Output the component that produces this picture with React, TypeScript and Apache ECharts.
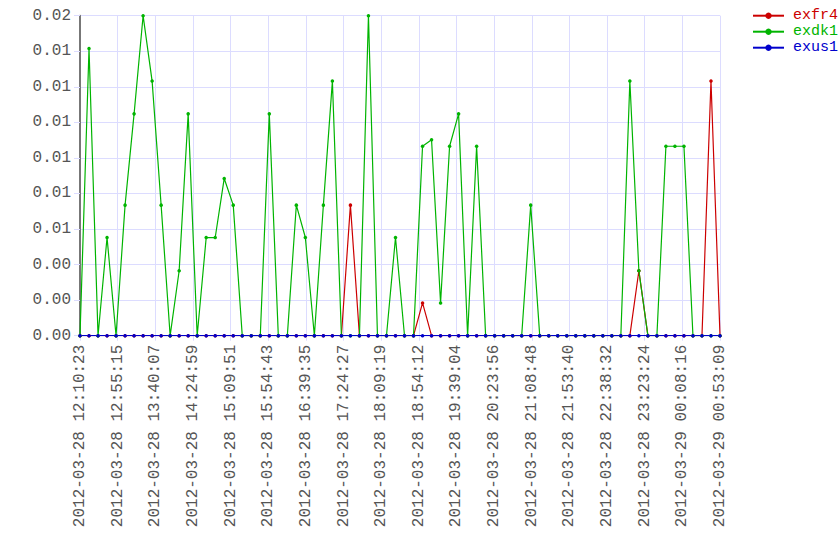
import React, { useEffect, useRef } from "react";
import * as echarts from "echarts";

const tickLabels = [
  "2012-03-28 12:10:23",
  "2012-03-28 12:55:15",
  "2012-03-28 13:40:07",
  "2012-03-28 14:24:59",
  "2012-03-28 15:09:51",
  "2012-03-28 15:54:43",
  "2012-03-28 16:39:35",
  "2012-03-28 17:24:27",
  "2012-03-28 18:09:19",
  "2012-03-28 18:54:12",
  "2012-03-28 19:39:04",
  "2012-03-28 20:23:56",
  "2012-03-28 21:08:48",
  "2012-03-28 21:53:40",
  "2012-03-28 22:38:32",
  "2012-03-28 23:23:24",
  "2012-03-29 00:08:16",
  "2012-03-29 00:53:09",
];

const exfr4 = [
  0, 0, 0, 0, 0, 0, 0, 0, 0, 0,
  0, 0, 0, 0, 0, 0, 0, 0, 0, 0,
  0, 0, 0, 0, 0, 0, 0, 0, 0, 0,
  0.00661, 0, 0, 0, 0, 0, 0, 0, 0.00166, 0,
  0, 0, 0, 0, 0, 0, 0, 0, 0, 0,
  0, 0, 0, 0, 0, 0, 0, 0, 0, 0,
  0, 0, 0.00329, 0, 0, 0, 0, 0, 0, 0,
  0.01289, 0,
];

const exdk1 = [
  0, 0.01454, 0, 0.00497, 0, 0.00661, 0.01123, 0.0162, 0.01289, 0.00661,
  0, 0.00329, 0.01123, 0, 0.00497, 0.00497, 0.00796, 0.00661, 0, 0,
  0, 0.01123, 0, 0, 0.00661, 0.00497, 0, 0.00661, 0.01289, 0,
  0, 0, 0.0162, 0, 0, 0.00497, 0, 0, 0.00959, 0.00992,
  0.00166, 0.00959, 0.01123, 0, 0.00959, 0, 0, 0, 0, 0,
  0.00661, 0, 0, 0, 0, 0, 0, 0, 0, 0,
  0, 0.01289, 0.00329, 0, 0, 0.00959, 0.00959, 0.00959, 0, 0,
  0, 0,
];

const exus1 = [
  0, 0, 0, 0, 0, 0, 0, 0, 0, 0,
  0, 0, 0, 0, 0, 0, 0, 0, 0, 0,
  0, 0, 0, 0, 0, 0, 0, 0, 0, 0,
  0, 0, 0, 0, 0, 0, 0, 0, 0, 0,
  0, 0, 0, 0, 0, 0, 0, 0, 0, 0,
  0, 0, 0, 0, 0, 0, 0, 0, 0, 0,
  0, 0, 0, 0, 0, 0, 0, 0, 0, 0,
  0, 0,
];

const seriesNames = ["exfr4", "exdk1", "exus1"];
const seriesColors = ["#cc0000", "#00b400", "#0000cc"];
const seriesData = [exfr4, exdk1, exus1];

const Y_MAX = 0.0162;
const Y_STEP = 0.0018;

const FONT = "Liberation Mono";
const GRID_COLOR = "#dcdcff";
const TEXT_COLOR = "#555";

export default function App() {
  const ref = useRef<HTMLDivElement>(null);
  useEffect(() => {
    if (!ref.current) return;
    const chart = echarts.init(ref.current, undefined, { renderer: "svg" });
    const pointCats = exdk1.map((_, i) => String(i));
    chart.setOption({
      animation: false,
      backgroundColor: "#ffffff",
      textStyle: { fontFamily: FONT },
      grid: { left: 80, top: 15.7, right: 120, bottom: 224.3, containLabel: false },
      legend: {
        left: 752,
        top: 7.7,
        padding: 0,
        orient: "vertical",
        itemWidth: 31,
        itemHeight: 8,
        itemGap: 0,
        data: seriesNames.map((n, i) => ({
          name: n,
          textStyle: { color: seriesColors[i] },
        })),
        textStyle: { fontFamily: FONT, fontSize: 15, lineHeight: 16, padding: [0, 0, 0, 4] },
      },
      xAxis: [
        {
          type: "category",
          data: pointCats,
          boundaryGap: false,
          show: false,
        },
        {
          type: "value",
          min: 0,
          max: tickLabels.length - 1,
          interval: 1,
          position: "bottom",
          axisLine: { show: false },
          axisTick: { show: true, length: 5, lineStyle: { color: GRID_COLOR } },
          splitLine: { show: true, lineStyle: { color: GRID_COLOR, width: 1 } },
          axisLabel: {
            rotate: 90,
            margin: 9,
            fontFamily: FONT,
            fontSize: 16,
            color: TEXT_COLOR,
            formatter: (v: number) => tickLabels[Math.round(v)] ?? "",
          },
        },
      ],
      yAxis: {
        type: "value",
        min: 0,
        max: Y_MAX,
        interval: Y_STEP,
        axisLine: { show: true, lineStyle: { color: "#777", width: 2 } },
        axisTick: { show: true, length: 6, lineStyle: { color: GRID_COLOR } },
        splitLine: { show: true, lineStyle: { color: GRID_COLOR, width: 1 } },
        axisLabel: {
          margin: 9,
          fontFamily: FONT,
          fontSize: 16,
          color: TEXT_COLOR,
          formatter: (v: number) => v.toFixed(2),
        },
      },
      series: seriesNames.map((n, i) => ({
        name: n,
        type: "line",
        xAxisIndex: 0,
        data: seriesData[i],
        color: seriesColors[i],
        symbol: "circle",
        symbolSize: 3.5,
        showSymbol: true,
        lineStyle: { width: 1.2, color: seriesColors[i] },
        itemStyle: { color: seriesColors[i] },
      })),
    });
    return () => chart.dispose();
  }, []);
  return (
    <div
      ref={ref}
      style={{ position: "absolute", left: 0, top: 0, width: 840, height: 560 }}
    />
  );
}
